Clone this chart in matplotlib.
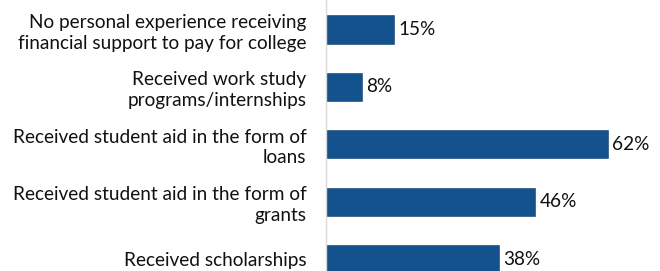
import matplotlib
matplotlib.use('Agg')
import matplotlib.pyplot as plt

categories = [
    'No personal experience receiving\nfinancial support to pay for college',
    'Received work study\nprograms/internships',
    'Received student aid in the form of\nloans',
    'Received student aid in the form of\ngrants',
    'Received scholarships',
]
values = [15, 8, 62, 46, 38]
value_labels = ['15%', '8%', '62%', '46%', '38%']

bar_color = '#13528d'
text_size = 13.7

plt.rcParams['font.family'] = ['Lato', 'DejaVu Sans']

fig = plt.figure(figsize=(6.6, 2.71), dpi=100)
ax = fig.add_axes([326 / 660, 0, 334 / 660, 1])

pos = list(range(len(categories)))
bars = ax.barh(pos, values, height=0.49, color=bar_color, edgecolor='#0d3f6e', linewidth=0.4)

ax.set_xlim(0, 73.4)
ax.set_ylim(4.207, -0.514)

for rect, lab in zip(bars, value_labels):
    ax.annotate(lab, (rect.get_width(), rect.get_y() + rect.get_height() / 2),
                xytext=(3, 0), textcoords='offset points',
                va='center', ha='left', fontsize=text_size, color='#111111')

ax.set_yticks(pos)
ax.set_yticklabels(categories, fontsize=text_size, color='#111111',
                   linespacing=1.25, ha='right', ma='right')
ax.tick_params(axis='y', length=0, pad=14)
ax.set_xticks([])

for side in ['top', 'right', 'bottom']:
    ax.spines[side].set_visible(False)
ax.spines['left'].set_color('#d9d9d9')
ax.spines['left'].set_linewidth(1.0)

fig.savefig('out.png', dpi=100)
